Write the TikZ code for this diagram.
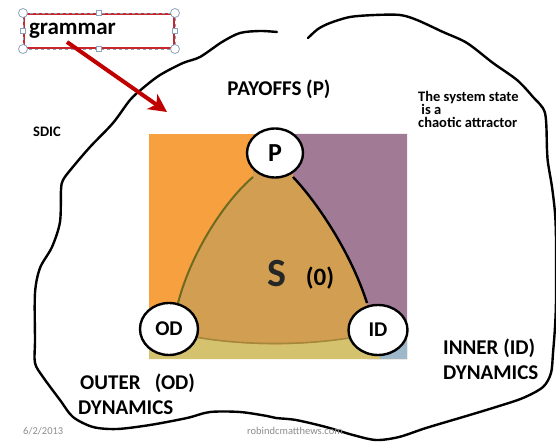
\documentclass[tikz,border=0pt]{standalone}
\usepackage{fontspec}
\setmainfont{Carlito}
\usetikzlibrary{arrows.meta,shapes.geometric}
\definecolor{orng}{HTML}{F6A040}
\definecolor{purp}{HTML}{A17B96}
\definecolor{tanc}{HTML}{D29E51}
\definecolor{band}{HTML}{D4C26E}
\definecolor{lblue}{HTML}{9DB7CB}
\definecolor{olive}{HTML}{6E6A20}
\definecolor{arrred}{HTML}{C00000}
\definecolor{boxred}{HTML}{C8282D}
\definecolor{handle}{HTML}{8DA3BB}
\definecolor{footgray}{HTML}{8C8C8C}
\newcommand{\fsz}[1]{\fontsize{#1}{#1}\selectfont}
\begin{document}
\begin{tikzpicture}[x=1pt,y=-1pt,
  lbl/.style={font=\bfseries, inner sep=0pt},
  vertex/.style={ellipse, draw=black, line width=2.4pt, fill=white, inner sep=0pt, font=\bfseries},
  blob/.style={line width=2.4pt, line join=round, line cap=round},
  foot/.style={text=footgray, inner sep=0pt, font=\fsz{10.5}}]
\useasboundingbox (0,0) rectangle (556,443);

% hand-drawn outline
\draw[blob] plot[smooth, tension=0.5] coordinates {
 (308,38) (318,29) (330,23) (350,17) (375,15) (400,15) (417,20) (443,32)
 (467,43) (493,63) (517,80) (533,97) (545,113) (547,150) (548,163) (552,187)
 (555,213) (556,240) (556,300) (555,327) (553,353) (551,373) (543,387)
 (523,398) (496,407) (463,417) (426,428) (399,437) (376,440) (353,435)
 (326,427) (296,420) (276,418) (267,416) (240,412) (210,412) (187,418)
 (150,425) (117,429) (93,427) (73,417) (60,400) (43,377) (35,363) (35,340)
 (35,293) (40,268) (52,247) (60,222) (61,190) (63,180) (72,168) (90,147)
 (113,123) (130,100) (143,88) (160,75) (183,63) (200,57) (222,42) (240,33)
 (260,31) (277,32)};

% coloured square
\fill[orng] (149,134) rectangle (407,359);
\fill[purp] (278,134) -- (407,134) -- (407,359) -- (367,359) -- (367,303)
  .. controls (350,250) and (315,200) .. (293,177) -- cycle;
\fill[tanc] (253,170) -- (253,177) .. controls (226,200) and (192,250) .. (178,303)
  -- (178,338) .. controls (240,347) and (310,347) .. (368,338) -- (367,303)
  .. controls (350,250) and (315,200) .. (293,177) -- (293,170) -- cycle;
\fill[band] (149,359) -- (149,339) -- (197,337) .. controls (240,347) and (310,347)
  .. (350,337) -- (407,337) -- (407,359) -- cycle;
\fill[lblue] (380,336) rectangle (407,359);
\draw[line width=1.6pt, color=olive!45!tanc] (190,336) .. controls (240,346) and (310,346) .. (360,336);
\draw[line width=2pt, olive] (253,177) .. controls (226,200) and (192,250) .. (178,303);
\draw[line width=2.4pt, black] (293,177) .. controls (315,200) and (350,250) .. (367,303);

% vertices
\node[vertex, minimum width=56pt, minimum height=49pt, font=\bfseries\fsz{26}] (P) at (275,153) {P};
\node[vertex, minimum width=58pt, minimum height=52pt, font=\bfseries\fsz{21}] (OD) at (169,329) {OD};
\node[vertex, minimum width=59pt, minimum height=50pt, font=\bfseries\fsz{21}] (ID) at (378,330) {ID};

\node[lbl, anchor=base, text=black!85, font=\bfseries\fsz{40}] (S) at (277,287) {S};
\node[lbl, anchor=base, font=\bfseries\fsz{25}] (zero) at (320,286) {(0)};

% texts
\node[lbl, font=\bfseries\fsz{21}] (payoffs) at (279,89) {PAYOFFS (P)};
\node[lbl, font=\bfseries\fsz{14.5}] (sdic) at (47,132) {SDIC};
\node[lbl, anchor=north west, align=left, text depth=0pt,
  font=\bfseries\fontsize{14.5}{13.2}\selectfont]
  (chaos) at (418,91) {The system state\\\ is a\\chaotic attractor};
\node[lbl, anchor=west, font=\bfseries\fsz{21}] (inner) at (443,348) {INNER (ID)};
\node[lbl, anchor=west, font=\bfseries\fsz{21}] (innerdyn) at (443,373) {DYNAMICS};
\node[lbl, anchor=west, font=\bfseries\fsz{21}] (outer) at (80,383) {OUTER\ \ \ (OD)};
\node[lbl, anchor=west, font=\bfseries\fsz{21}] (outerdyn) at (78,408) {DYNAMICS};
\node[foot, anchor=west] (date) at (23,431) {6/2/2013};
\node[foot, anchor=west] (site) at (247,431) {robindcmatthews.com};

% grammar box
\node[draw=boxred, line width=2pt, minimum width=150pt, minimum height=34pt,
  anchor=north west, text width=140pt, align=left, inner xsep=4pt,
  font=\bfseries\fsz{23}] (grammar) at (23,13) {grammar};
\draw[handle, dashed, line width=0.5pt] (grammar.north west) rectangle (grammar.south east);
\foreach \a in {north west, north east, south west, south east}
  \draw[handle, fill=white, line width=0.8pt] (grammar.\a) circle (4.5pt);
\foreach \a in {north, south, west, east}
  \draw[handle, fill=white, line width=0.8pt] ([shift={(-2.8pt,-2.8pt)}]grammar.\a) rectangle ([shift={(2.8pt,2.8pt)}]grammar.\a);

\coordinate (gtail) at (67,42);
\coordinate (gtip) at (167,112);
\draw[arrred, line width=4pt, -{Stealth[length=18pt, width=18pt, inset=5pt]}] (gtail) -- (gtip);
\end{tikzpicture}
\end{document}
